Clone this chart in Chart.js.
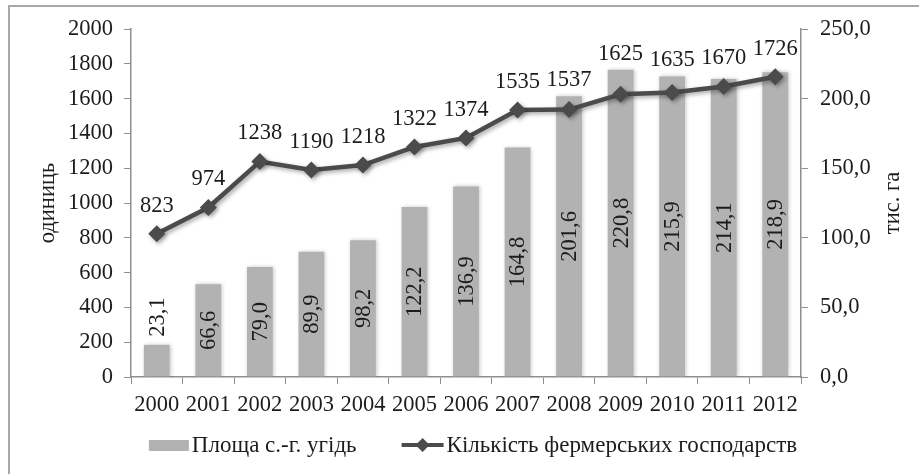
<!DOCTYPE html>
<html>
<head>
<meta charset="utf-8">
<script src="https://cdn.jsdelivr.net/npm/chart.js@4.4.0/dist/chart.umd.min.js"></script>
<style>
  html, body { margin: 0; padding: 0; background: #fff; }
  #wrap { position: relative; width: 919px; height: 474px; overflow: hidden; }
  #frame { position: absolute; left: 8px; top: 5px; width: 960px; height: 520px;
           border-left: 2px solid #a9a9a9; border-top: 2px solid #a9a9a9; }
  #chart { position: absolute; left: 0; top: 0; }
</style>
</head>
<body>
<div id="wrap">
  <div id="frame"></div>
  <canvas id="chart" width="919" height="474"></canvas>
</div>
<script>
// ─── Data ──────────────────────────────────────────────────────────────────────
const years      = ['2000', '2001', '2002', '2003', '2004', '2005', '2006',
                    '2007', '2008', '2009', '2010', '2011', '2012'];
const farmCount  = [823, 974, 1238, 1190, 1218, 1322, 1374, 1535, 1537, 1625, 1635, 1670, 1726];
const landArea   = [23.1, 66.6, 79.0, 89.9, 98.2, 122.2, 136.9, 164.8, 201.6, 220.8, 215.9, 214.1, 218.9];
const countAxis  = { min: 0, max: 2000, step: 200 };
const areaAxis   = { min: 0, max: 250, step: 50 };
const seriesNames = ['Площа с.-г. угідь', 'Кількість фермерських господарств'];
const axisNames   = ['одиниць', 'тис. га'];

const BAR_COLOR  = '#b2b2b2';
const LINE_COLOR = '#4b4b4b';
const AXIS_COLOR = '#8f8f8f';
const TEXT_COLOR = '#1c1c1c';
const FONT_FAMILY = '"Liberation Serif", "Times New Roman", serif';
const FONT_SIZE  = 22.5;
const LEGEND_FONT_SIZE = 23;

const comma = v => v.toFixed(1).replace('.', ',');

// ─── Plugins ──────────────────────────────────────────────────────────────────

const softShadow = {
  id: 'softShadow',
  beforeDatasetDraw(chart, args) {
    const ctx = chart.ctx;
    ctx.save();
    if (args.index === 0) {
      ctx.shadowColor = 'rgba(0,0,0,0.22)';
      ctx.shadowBlur = 4;
      ctx.shadowOffsetX = 1;
      ctx.shadowOffsetY = 0;
    } else {
      ctx.shadowColor = 'rgba(0,0,0,0.35)';
      ctx.shadowBlur = 4;
      ctx.shadowOffsetX = 2;
      ctx.shadowOffsetY = 2;
    }
  },
  afterDatasetDraw(chart) {
    chart.ctx.restore();
  },
};

const valueLabels = {
  id: 'valueLabels',
  afterDatasetsDraw(chart) {
    const ctx = chart.ctx;
    ctx.save();
    ctx.font = `${FONT_SIZE}px ${FONT_FAMILY}`;
    ctx.fillStyle = TEXT_COLOR;
    ctx.textAlign = 'center';
    ctx.textBaseline = 'middle';

    const bars = chart.getDatasetMeta(0).data;
    bars.forEach((bar, i) => {
      const txt = comma(landArea[i]);
      const w = ctx.measureText(txt).width;
      const h = bar.base - bar.y;
      let cy = bar.y + h / 2;
      if (w + 4 > h) cy = bar.y - 8 - w / 2;
      ctx.save();
      ctx.translate(bar.x, cy);
      ctx.rotate(-Math.PI / 2);
      ctx.fillText(txt, 0, 1);
      ctx.restore();
    });

    // line labels sit above the point, and above the bar top where the bar is taller
    chart.getDatasetMeta(1).data.forEach((pt, i) => {
      const cy = Math.min(pt.y - 28, bars[i].y - 16);
      ctx.fillText(String(farmCount[i]), pt.x, cy);
    });
    ctx.restore();
  },
};

const axisTitles = {
  id: 'axisTitles',
  afterDraw(chart) {
    const ctx = chart.ctx;
    const { y, y1 } = chart.scales;
    const cy = (chart.chartArea.top + chart.chartArea.bottom) / 2;
    ctx.save();
    ctx.font = `${FONT_SIZE}px ${FONT_FAMILY}`;
    ctx.fillStyle = TEXT_COLOR;
    ctx.textAlign = 'center';
    ctx.textBaseline = 'middle';
    [[y.left + 48, axisNames[0]], [y1.right - 26, axisNames[1]]].forEach(([x, txt]) => {
      ctx.save();
      ctx.translate(x, cy);
      ctx.rotate(-Math.PI / 2);
      ctx.fillText(txt, 0, 0);
      ctx.restore();
    });
    ctx.restore();
  },
};

// bottom legend: grey swatch, then line-with-diamond
const bottomLegend = {
  id: 'bottomLegend',
  afterDraw(chart) {
    const ctx = chart.ctx;
    const area = chart.chartArea;
    const cy = chart.height - 29;
    ctx.save();
    ctx.font = `${LEGEND_FONT_SIZE}px ${FONT_FAMILY}`;
    const w0 = ctx.measureText(seriesNames[0]).width;
    const w1 = ctx.measureText(seriesNames[1]).width;
    const total = 40 + 3 + w0 + 45 + 42 + 3 + w1;
    let x = (area.left + area.right) / 2 + 7 - total / 2;

    ctx.fillStyle = BAR_COLOR;
    ctx.fillRect(x, cy - 5, 40, 11);
    x += 43;
    ctx.fillStyle = TEXT_COLOR;
    ctx.textBaseline = 'middle';
    ctx.fillText(seriesNames[0], x, cy + 1);
    x += w0 + 45;

    ctx.strokeStyle = LINE_COLOR;
    ctx.fillStyle = LINE_COLOR;
    ctx.lineWidth = 4;
    ctx.beginPath(); ctx.moveTo(x, cy); ctx.lineTo(x + 42, cy); ctx.stroke();
    ctx.beginPath();
    ctx.moveTo(x + 21, cy - 7); ctx.lineTo(x + 28, cy); ctx.lineTo(x + 21, cy + 7); ctx.lineTo(x + 14, cy);
    ctx.closePath(); ctx.fill();
    x += 45;
    ctx.fillStyle = TEXT_COLOR;
    ctx.fillText(seriesNames[1], x, cy + 1);
    ctx.restore();
  },
};

// ─── Chart ────────────────────────────────────────────────────────────────────

Chart.defaults.font.family = FONT_FAMILY;
Chart.defaults.font.size = FONT_SIZE;
Chart.defaults.color = TEXT_COLOR;

new Chart(document.getElementById('chart'), {
  type: 'bar',
  data: {
    labels: years,
    datasets: [
      {
        type: 'bar',
        label: seriesNames[0],
        data: landArea,
        yAxisID: 'y1',
        backgroundColor: BAR_COLOR,
        barPercentage: 0.5,
        categoryPercentage: 1,
        order: 2,
      },
      {
        type: 'line',
        label: seriesNames[1],
        data: farmCount,
        yAxisID: 'y',
        borderColor: LINE_COLOR,
        backgroundColor: LINE_COLOR,
        borderWidth: 4.5,
        pointStyle: 'rectRot',
        pointRadius: 8.5,
        pointBorderWidth: 0,
        tension: 0,
        order: 1,
      },
    ],
  },
  options: {
    responsive: false,
    animation: false,
    layout: { padding: { left: 0, right: 0, top: 29, bottom: 47 } },
    plugins: {
      tooltip: { enabled: false },
      legend: { display: false },
    },
    scales: {
      x: {
        grid: { display: true, drawOnChartArea: false, drawTicks: true, tickLength: 7, color: AXIS_COLOR, offset: true },
        border: { display: true, color: AXIS_COLOR, width: 1.5 },
        ticks: { padding: 8, maxRotation: 0, autoSkip: false },
        afterFit: s => { s.height = 50; },
      },
      y: {
        position: 'left',
        min: countAxis.min, max: countAxis.max,
        grid: { drawOnChartArea: false, drawTicks: true, tickLength: 7, color: AXIS_COLOR },
        border: { display: true, color: AXIS_COLOR, width: 1.5 },
        ticks: { stepSize: countAxis.step, padding: 11, callback: v => String(v) },
        afterFit: s => { s.width = 131; },
      },
      y1: {
        position: 'right',
        min: areaAxis.min, max: areaAxis.max,
        grid: { drawOnChartArea: false, drawTicks: true, tickLength: 7, color: AXIS_COLOR },
        border: { display: true, color: AXIS_COLOR, width: 1.5 },
        ticks: { stepSize: areaAxis.step, padding: 12, callback: v => comma(v) },
        afterFit: s => { s.width = 118; },
      },
    },
  },
  plugins: [softShadow, valueLabels, axisTitles, bottomLegend],
});
</script>
</body>
</html>
